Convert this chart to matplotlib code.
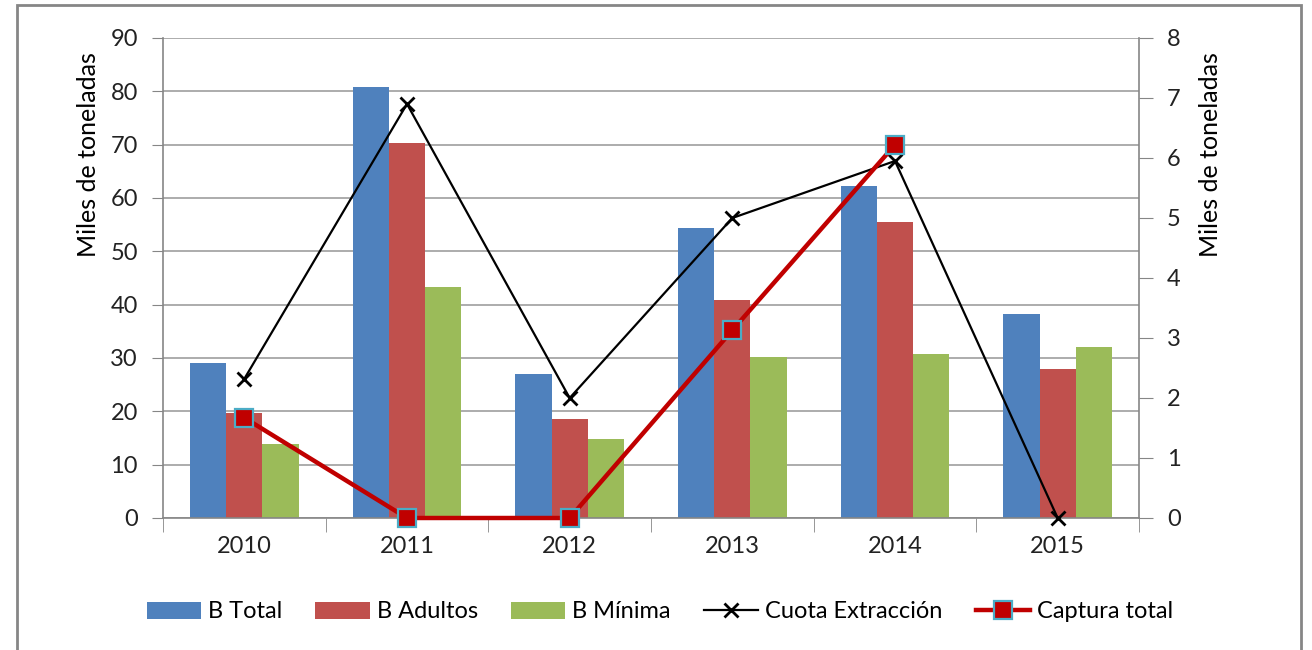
import numpy as np
import matplotlib
matplotlib.use("Agg")
import matplotlib.pyplot as plt
from matplotlib.patches import Rectangle

# data
years = ["2010", "2011", "2012", "2013", "2014", "2015"]
b_total = [29.0, 80.9, 27.0, 54.4, 62.3, 38.3]
b_adultos = [19.7, 70.3, 18.6, 40.9, 55.5, 27.9]
b_minima = [13.9, 43.3, 14.8, 30.2, 30.7, 32.1]
cuota = [2.32, 6.9, 2.0, 5.0, 5.95, 0.0]
captura = [1.67, 0.0, 0.0, 3.13, 6.22]

plt.rcParams['font.family'] = ['Lato', 'DejaVu Sans']
plt.rcParams['font.size'] = 17
grey = '#868686'

fig = plt.figure(figsize=(13.12, 6.5), dpi=100)
ax = fig.add_axes([163 / 1312, 132 / 650, 976 / 1312, 480 / 650])
ax2 = ax.twinx()

x = np.arange(len(years))
w = 1 / 4.5
ax.bar(x - w, b_total, w, color='#4F81BD', label='B Total', zorder=2)
ax.bar(x, b_adultos, w, color='#C0504D', label='B Adultos', zorder=2)
ax.bar(x + w, b_minima, w, color='#9BBB59', label='B Mínima', zorder=2)

l1, = ax2.plot(x, cuota, color='black', lw=1.6, marker='x', ms=10, mew=2,
               label='Cuota Extracción', clip_on=False)
l2, = ax2.plot(x[:len(captura)], captura, color='#C00000', lw=3.2, marker='s',
               ms=13, mfc='#C00000', mec='#4BACC6', mew=1.6, label='Captura total',
               clip_on=False)

ax.set_xlim(-0.5, 5.5)
ax.set_ylim(0, 90)
ax2.set_ylim(0, 8)
ax.set_yticks(np.arange(0, 91, 10))
ax2.set_yticks(np.arange(0, 9, 1))
ax.set_xticks(x, years)
ax.set_xticks(np.arange(-0.5, 6, 1), minor=True)
ax.tick_params(axis='x', which='major', length=0, pad=13, colors='#222222')
ax.tick_params(axis='x', which='minor', length=10, color=grey, direction='out')
ax.tick_params(axis='y', length=8, pad=10, colors='#222222')
ax.tick_params(axis='y', color=grey)
ax2.tick_params(axis='y', length=10, color=grey, pad=10, labelcolor='#222222')

ax.yaxis.grid(True, color='#A6A6A6', lw=1.3, zorder=0)
ax.set_axisbelow(True)
for a in (ax, ax2):
    a.spines['top'].set_visible(False)
    for s in ('left', 'right', 'bottom'):
        a.spines[s].set_color(grey)
        a.spines[s].set_linewidth(1.2)
ax.spines['right'].set_visible(False)
ax2.spines['left'].set_visible(False)
ax2.spines['bottom'].set_visible(False)

fig.text(88 / 1312, 1 - 155 / 650, 'Miles de toneladas', rotation=90,
         ha='center', va='center', color='black', fontsize=18)
fig.text(1210 / 1312, 1 - 155 / 650, 'Miles de toneladas', rotation=90,
         ha='center', va='center', color='black', fontsize=18)

handles = ax.get_legend_handles_labels()[0] + [l1, l2]
fig.legend(handles=handles, loc='center', bbox_to_anchor=(660 / 1312, 1 - 612 / 650),
           ncol=5, frameon=False, handlelength=2.3, handleheight=0.7,
           handletextpad=0.3, columnspacing=1.4, fontsize=17)

# outer frame of the chart area
fig.patches.append(Rectangle((17 / 1312, -0.05), 1284 / 1312, 1.05 - 5 / 650,
                             transform=fig.transFigure, fill=False,
                             edgecolor=grey, lw=2))

fig.savefig('out.png', dpi=100)
